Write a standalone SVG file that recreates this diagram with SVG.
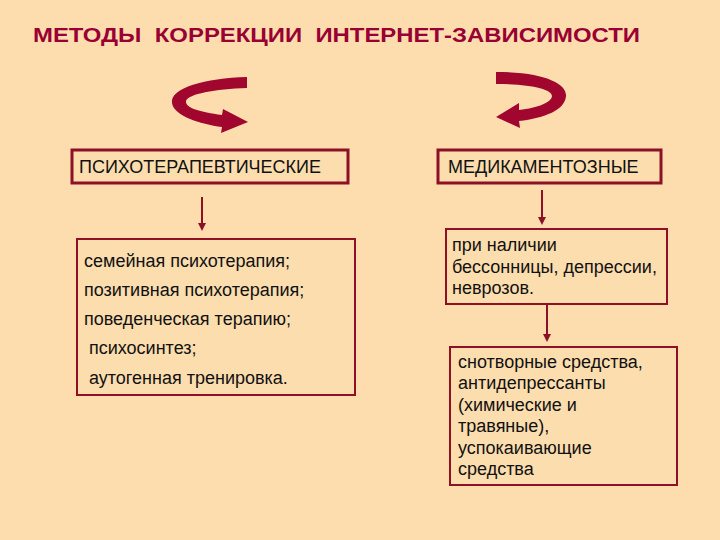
<svg xmlns="http://www.w3.org/2000/svg" width="720" height="540" viewBox="0 0 720 540">
<style>
.title{font-family:"Liberation Sans",Arial,sans-serif;font-weight:bold;font-size:21px;fill:#990033;white-space:pre}
.t{font-family:"Liberation Sans",Arial,sans-serif;font-size:18px;fill:#111;white-space:pre}
.t2{font-family:"Liberation Sans",Arial,sans-serif;font-size:18px;fill:#111}
.box{fill:#FCDDAE;stroke:#8E1026}
.thick{stroke-width:3}
.thin{stroke-width:2}
.conn{stroke:#8E1026;stroke-width:2;fill:none}
.curl{fill:#A0062E}
</style>
<defs>
<marker id="ah" markerWidth="8" markerHeight="8" refX="6" refY="4" orient="auto" markerUnits="userSpaceOnUse">
<path d="M0,0 L8,4 L0,8 Z" fill="#8E1026"/>
</marker>
</defs>
<rect width="720" height="540" fill="#FDDDAE"/>
<text class="title" x="33" y="42" textLength="607" lengthAdjust="spacingAndGlyphs">МЕТОДЫ  КОРРЕКЦИИ  ИНТЕРНЕТ-ЗАВИСИМОСТИ</text>
<g id="curl-left">
<path class="curl" d="M247,77 C205,78 170,88 172,103 C174,116 200,124 222,127 L221,133 L248,122 L223,109 L222,115 C200,112 185,108 186,101 C188,94 215,89 247,88 Z"/>
</g>
<g id="curl-right">
<path class="curl" d="M496,72 C545,72 567,84 566,96 C565,110 545,118 519,121 L520,128 L496,117 L519,103 L519,110 C538,108 552,102 552,96 C552,89 530,84 496,84 Z"/>
</g>
<g id="psy">
<rect class="box thick" x="72" y="150" width="276" height="33"/>
<text class="t" x="79" y="173">ПСИХОТЕРАПЕВТИЧЕСКИЕ</text>
</g>
<g id="psy-list">
<rect class="box thin" x="77" y="239" width="278" height="156"/>
<text class="t" x="84" y="267">семейная психотерапия;</text>
<text class="t" x="84" y="296">позитивная психотерапия;</text>
<text class="t" x="84" y="325">поведенческая терапию;</text>
<text class="t" x="84" y="354"> психосинтез;</text>
<text class="t" x="84" y="384"> аутогенная тренировка.</text>
</g>
<g id="med">
<rect class="box thick" x="438" y="150" width="223" height="33"/>
<text class="t" x="448" y="173">МЕДИКАМЕНТОЗНЫЕ</text>
</g>
<g id="med-cond">
<rect class="box thin" x="446" y="229" width="221" height="75"/>
<text class="t2" x="452" y="251">при наличии</text>
<text class="t2" x="452" y="273">бессонницы, депрессии,</text>
<text class="t2" x="452" y="294">неврозов.</text>
</g>
<g id="med-drugs">
<rect class="box thin" x="450" y="347" width="227" height="138"/>
<text class="t2" x="458" y="368">снотворные средства,</text>
<text class="t2" x="458" y="389">антидепрессанты</text>
<text class="t2" x="458" y="411">(химические и</text>
<text class="t2" x="458" y="432">травяные),</text>
<text class="t2" x="458" y="454">успокаивающие</text>
<text class="t2" x="458" y="475">средства</text>
</g>
<g id="connectors">
<line class="conn" x1="202" y1="197" x2="202" y2="229" marker-end="url(#ah)"/>
<line class="conn" x1="542" y1="190" x2="542" y2="223" marker-end="url(#ah)"/>
<line class="conn" x1="547" y1="305" x2="547" y2="340" marker-end="url(#ah)"/>
</g>
</svg>
